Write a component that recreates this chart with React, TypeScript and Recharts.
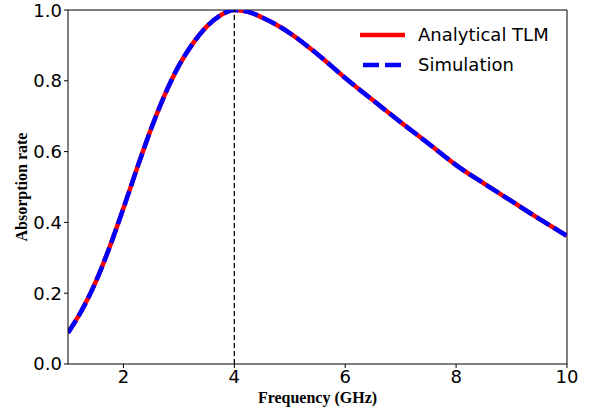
import React from 'react';
import { LineChart, Line, XAxis, YAxis, ReferenceLine } from 'recharts';

const frequency = [1.0, 1.25, 1.5, 1.75, 2.0, 2.25, 2.5, 2.75, 3.0, 3.25, 3.5, 3.75, 4.0, 4.25, 4.5, 4.75, 5.0, 5.5, 6.0, 6.5, 7.0, 7.5, 8.0, 8.5, 9.0, 9.5, 10.0];
const analytical = [0.088, 0.152, 0.232, 0.33, 0.44, 0.555, 0.665, 0.762, 0.843, 0.905, 0.953, 0.985, 1.0, 0.995, 0.979, 0.959, 0.935, 0.875, 0.808, 0.745, 0.683, 0.623, 0.562, 0.51, 0.46, 0.41, 0.362];
const simulation = [0.088, 0.152, 0.232, 0.33, 0.44, 0.555, 0.665, 0.762, 0.843, 0.905, 0.953, 0.985, 1.0, 0.995, 0.979, 0.959, 0.935, 0.875, 0.808, 0.745, 0.683, 0.623, 0.562, 0.51, 0.46, 0.41, 0.362];
const xTicks = [2, 4, 6, 8, 10];
const yTicks = [0, 0.2, 0.4, 0.6, 0.8, 1.0];

const data = frequency.map((f, i) => ({ f, analytical: analytical[i], simulation: simulation[i] }));

const tickFont = { fontFamily: 'DejaVu Sans', fontSize: 18, fill: '#000' };
const labelFont = { fontFamily: 'Liberation Serif', fontWeight: 'bold' as const, fontSize: 16, fill: '#000' };

const LegendBox = () => (
  <div style={{ position: 'absolute', left: 355, top: 20, fontFamily: 'DejaVu Sans', fontSize: 18, color: '#000', lineHeight: '30px' }}>
    <div style={{ display: 'flex', alignItems: 'center', height: 30 }}>
      <svg width={63} height={10}><line x1={5} y1={5} x2={50} y2={5} stroke="#ff0000" strokeWidth={4.5} /></svg>
      <span>Analytical TLM</span>
    </div>
    <div style={{ display: 'flex', alignItems: 'center', height: 30 }}>
      <svg width={63} height={10}><line x1={8} y1={5} x2={50} y2={5} stroke="#0000ff" strokeWidth={4.5} strokeDasharray="16 6" /></svg>
      <span>Simulation</span>
    </div>
  </div>
);

export default function App() {
  return (
    <div style={{ position: 'absolute', left: 0, top: 0, width: 590, height: 412, background: '#fff' }}>
      <LineChart width={590} height={412} data={data} margin={{ top: 10, right: 23, left: 0, bottom: 0 }}>
        <XAxis
          dataKey="f"
          type="number"
          domain={[1, 10]}
          ticks={xTicks}
          allowDataOverflow
          height={48}
          tick={tickFont}
          tickLine={{ stroke: '#000' }}
          tickSize={4}
          axisLine={{ stroke: '#000' }}
          label={{
            content: (p: any) => {
              const vb = p.viewBox;
              return (
                <text x={vb.x + vb.width / 2} y={403} textAnchor="middle" style={labelFont}>
                  Frequency (GHz)
                </text>
              );
            },
          }}
        />
        <YAxis
          type="number"
          domain={[0, 1]}
          ticks={yTicks}
          allowDataOverflow
          width={68}
          tick={tickFont}
          tickLine={{ stroke: '#000' }}
          tickSize={4}
          tickFormatter={(v: number) => v.toFixed(1)}
          axisLine={{ stroke: '#000' }}
          label={{
            content: (p: any) => {
              const vb = p.viewBox;
              const cy = vb.y + vb.height / 2;
              return (
                <text x={27} y={cy} transform={`rotate(-90 27 ${cy})`} textAnchor="middle" style={labelFont}>
                  Absorption rate
                </text>
              );
            },
          }}
        />
        <ReferenceLine y={1} stroke="#000" strokeWidth={1} />
        <ReferenceLine x={10} stroke="#000" strokeWidth={1} />
        <Line type="monotone" dataKey="analytical" stroke="#ff0000" strokeWidth={4.5} dot={false} isAnimationActive={false} />
        <Line type="monotone" dataKey="simulation" stroke="#0000ff" strokeWidth={4.5} strokeDasharray="15 5" dot={false} isAnimationActive={false} />
        <ReferenceLine x={4} stroke="#000" strokeWidth={1.3} strokeDasharray="5 3" />
      </LineChart>
      <LegendBox />
    </div>
  );
}
